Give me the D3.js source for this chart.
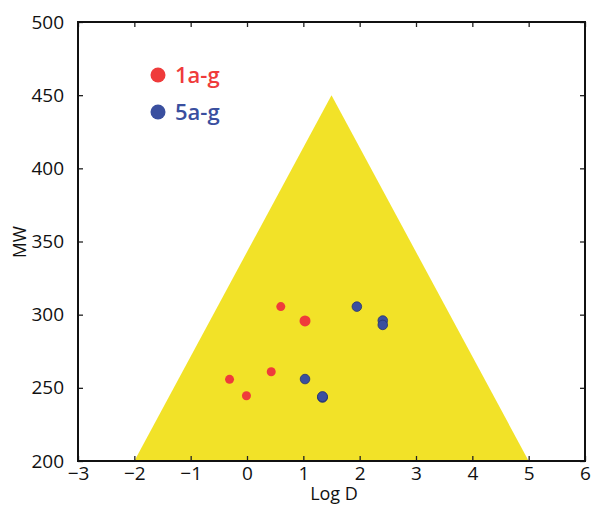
<!DOCTYPE html>
<html><head><meta charset="utf-8">
<script src="https://cdn.jsdelivr.net/npm/d3@7"></script>
<style>body{margin:0;background:#fff}svg{display:block}text{font-family:"Open Sans",sans-serif}</style>
</head><body><svg width="592" height="506"></svg>
<script>
const xTicks=[-3,-2,-1,0,1,2,3,4,5,6];
const yTicks=[200,250,300,350,400,450,500];
const triangle=[[-2,200],[1.5,450],[5,200]];
const series1={name:"1a-g",color:"#ef3b3b",x:[0.6,1.03,0.43,-0.31,-0.01],y:[305.5,295.7,261,255.8,244.6],r:[4.5,5.5,4.5,4.5,4.5]};
const series5={name:"5a-g",color:"#3a4f9f",x:[1.95,2.41,2.41,1.03,1.34,1.34],y:[305.5,296,293,256,243.5,244],r:[4.8,4.8,4.8,4.8,5,5]};

const svg=d3.select("svg");
const L=78,R=585,T=22,B=461;
const x=d3.scaleLinear().domain([-3,6]).range([L,R]);
const y=d3.scaleLinear().domain([200,500]).range([B,T]);

svg.append("path").attr("d",d3.line().x(d=>x(d[0])).y(d=>y(d[1]))(triangle)+"Z").attr("fill","#f2e228");

function pts(s,stroke){
  svg.append("g").selectAll("circle").data(s.x.map((v,i)=>[v,s.y[i],s.r[i]])).join("circle")
    .attr("cx",d=>x(d[0])).attr("cy",d=>y(d[1])).attr("r",d=>d[2])
    .attr("fill",s.color).attr("stroke",stroke).attr("stroke-width",0.8);
}
pts(series1,"none");
pts(series5,"#26336f");

const fmt=d=>d<0?"\u2212"+Math.abs(d):String(d);
const ax=(g,a)=>{g.call(a);g.select(".domain").remove();g.selectAll("line").attr("stroke","#222").attr("stroke-width",1.3);};
svg.append("g").attr("transform",`translate(0,${B})`).call(g=>ax(g,d3.axisBottom(x).tickValues(xTicks).tickSize(-5).tickPadding(5).tickFormat(fmt)));
svg.append("g").attr("transform",`translate(0,${T})`).call(g=>ax(g,d3.axisTop(x).tickValues(xTicks).tickSize(-5).tickFormat("")));
svg.append("g").attr("transform",`translate(${L},0)`).call(g=>ax(g,d3.axisLeft(y).tickValues(yTicks).tickSize(-5).tickPadding(14).tickFormat(fmt)));
svg.append("g").attr("transform",`translate(${R},0)`).call(g=>ax(g,d3.axisRight(y).tickValues(yTicks).tickSize(-5).tickFormat("")));
svg.selectAll(".tick text").attr("font-family","'Open Sans',sans-serif").attr("font-size",19).attr("font-weight",500).attr("fill","#111");

svg.append("rect").attr("x",L).attr("y",T).attr("width",R-L).attr("height",B-T).attr("fill","none").attr("stroke","#111").attr("stroke-width",2);

svg.append("text").attr("x",334).attr("y",500).attr("text-anchor","middle").attr("font-size",18).attr("font-weight",500).attr("fill","#111").text("Log D");
svg.append("text").attr("transform",`translate(26,${242}) rotate(-90)`).attr("text-anchor","middle").attr("font-size",17.5).attr("font-weight",500).attr("fill","#111").text("MW");

[[series1,75],[series5,112]].forEach(([s,yy])=>{
  svg.append("circle").attr("cx",158).attr("cy",yy).attr("r",7.5).attr("fill",s.color);
  svg.append("text").attr("x",175).attr("y",yy+8).attr("font-size",22).attr("font-weight",600).attr("fill",s.color).text(s.name);
});
</script></body></html>
